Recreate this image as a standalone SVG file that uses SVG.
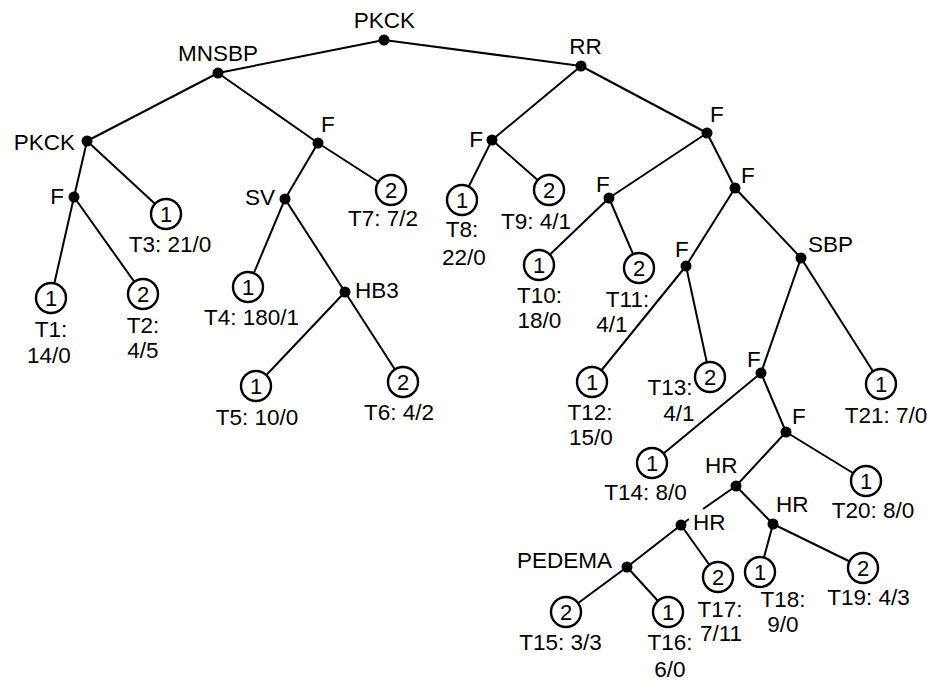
<svg xmlns="http://www.w3.org/2000/svg" width="927" height="683" viewBox="0 0 927 683">
<style>
text{font-family:"Liberation Sans",Arial,sans-serif;font-size:22.5px;fill:#000}
.m{text-anchor:middle}
.e{text-anchor:end}
.s{text-anchor:start}
.dot{fill:#000}
.leaf{fill:#fff;stroke:#000;stroke-width:2.4}
.num{text-anchor:middle;font-size:22px}
#edges line,#edges path{stroke:#000;stroke-width:2;fill:none}
</style>
<rect width="927" height="683" fill="#fff"/>
<g id="edges">
<line x1="384" y1="40" x2="218" y2="73"/>
<line x1="384" y1="40" x2="581" y2="66"/>
<line x1="218" y1="73" x2="87" y2="141"/>
<line x1="218" y1="73" x2="318" y2="143"/>
<line x1="87" y1="141" x2="74" y2="197"/>
<line x1="87" y1="141" x2="166" y2="214"/>
<line x1="74" y1="197" x2="51" y2="298"/>
<line x1="74" y1="197" x2="143" y2="294"/>
<line x1="318" y1="143" x2="285" y2="199"/>
<line x1="318" y1="143" x2="391" y2="190"/>
<line x1="285" y1="199" x2="248" y2="287"/>
<line x1="285" y1="199" x2="345" y2="292"/>
<line x1="345" y1="292" x2="256" y2="386"/>
<line x1="345" y1="292" x2="403" y2="382"/>
<line x1="581" y1="66" x2="492" y2="140"/>
<line x1="581" y1="66" x2="707" y2="133"/>
<line x1="492" y1="140" x2="462" y2="200"/>
<line x1="492" y1="140" x2="549" y2="190"/>
<line x1="707" y1="133" x2="609" y2="198"/>
<line x1="707" y1="133" x2="735" y2="188"/>
<line x1="609" y1="198" x2="539" y2="265"/>
<line x1="609" y1="198" x2="639" y2="268"/>
<line x1="735" y1="188" x2="686" y2="266"/>
<line x1="735" y1="188" x2="801" y2="258"/>
<line x1="686" y1="266" x2="592" y2="382"/>
<line x1="686" y1="266" x2="710" y2="377"/>
<line x1="801" y1="258" x2="761" y2="373"/>
<line x1="801" y1="258" x2="881" y2="384"/>
<line x1="761" y1="373" x2="652" y2="463"/>
<line x1="761" y1="373" x2="786" y2="432"/>
<line x1="786" y1="432" x2="736" y2="486"/>
<line x1="786" y1="432" x2="866" y2="481"/>
<path d="M736,486 L703,509 M689,519 L681,525"/>
<line x1="736" y1="486" x2="773" y2="524"/>
<line x1="681" y1="525" x2="627" y2="567"/>
<line x1="681" y1="525" x2="718" y2="577"/>
<line x1="773" y1="524" x2="760" y2="572"/>
<line x1="773" y1="524" x2="863" y2="568"/>
<line x1="627" y1="567" x2="566" y2="612"/>
<line x1="627" y1="567" x2="668" y2="612"/>
</g>
<g id="n-root"><circle class="dot" cx="384" cy="40" r="5.5"/><text class="m" x="384.5" y="28">PKCK</text></g>
<g id="n-mnsbp"><circle class="dot" cx="218" cy="73" r="5.5"/><text class="m" x="218" y="61">MNSBP</text></g>
<g id="n-rr"><circle class="dot" cx="581" cy="66" r="5.5"/><text class="m" x="585.5" y="54">RR</text></g>
<g id="n-pkck2"><circle class="dot" cx="87" cy="141" r="5.5"/><text class="e" x="75" y="150">PKCK</text></g>
<g id="n-f1"><circle class="dot" cx="318" cy="143" r="5.5"/><text class="s" x="321" y="132">F</text></g>
<g id="n-f2"><circle class="dot" cx="74" cy="197" r="5.5"/><text class="e" x="64" y="204">F</text></g>
<g id="n-sv"><circle class="dot" cx="285" cy="199" r="5.5"/><text class="e" x="275" y="205">SV</text></g>
<g id="n-hb3"><circle class="dot" cx="345" cy="292" r="5.5"/><text class="s" x="355" y="298">HB3</text></g>
<g id="n-f3"><circle class="dot" cx="492" cy="140" r="5.5"/><text class="e" x="483" y="147">F</text></g>
<g id="n-f4"><circle class="dot" cx="707" cy="133" r="5.5"/><text class="s" x="710" y="122">F</text></g>
<g id="n-f5"><circle class="dot" cx="609" cy="198" r="5.5"/><text class="s" x="596" y="192">F</text></g>
<g id="n-f6"><circle class="dot" cx="735" cy="188" r="5.5"/><text class="s" x="741" y="183">F</text></g>
<g id="n-f7"><circle class="dot" cx="686" cy="266" r="5.5"/><text class="s" x="675" y="257">F</text></g>
<g id="n-sbp"><circle class="dot" cx="801" cy="258" r="5.5"/><text class="s" x="808" y="252">SBP</text></g>
<g id="n-f8"><circle class="dot" cx="761" cy="373" r="5.5"/><text class="s" x="747" y="367">F</text></g>
<g id="n-f9"><circle class="dot" cx="786" cy="432" r="5.5"/><text class="s" x="792" y="424">F</text></g>
<g id="n-hr1"><circle class="dot" cx="736" cy="486" r="5.5"/><text class="s" x="705" y="473">HR</text></g>
<g id="n-hr2"><circle class="dot" cx="681" cy="525" r="5.5"/><text class="s" x="693" y="530">HR</text></g>
<g id="n-hr3"><circle class="dot" cx="773" cy="524" r="5.5"/><text class="s" x="776" y="512">HR</text></g>
<g id="n-pedema"><circle class="dot" cx="627" cy="567" r="5.5"/><text class="s" x="517" y="568">PEDEMA</text></g>
<g id="t1"><circle class="leaf" cx="51" cy="298" r="15"/><text class="num" x="51" y="306">1</text><text class="m" x="51" y="337">T1:</text><text class="m" x="49" y="363">14/0</text></g>
<g id="t2"><circle class="leaf" cx="143" cy="294" r="15"/><text class="num" x="143" y="302">2</text><text class="m" x="143" y="333">T2:</text><text class="m" x="143" y="358">4/5</text></g>
<g id="t3"><circle class="leaf" cx="166" cy="214" r="15"/><text class="num" x="166" y="222">1</text><text class="m" x="170" y="252">T3: 21/0</text></g>
<g id="t4"><circle class="leaf" cx="248" cy="287" r="15"/><text class="num" x="248" y="295">1</text><text class="m" x="251.5" y="325">T4: 180/1</text></g>
<g id="t5"><circle class="leaf" cx="256" cy="386" r="15"/><text class="num" x="256" y="394">1</text><text class="m" x="257" y="425">T5: 10/0</text></g>
<g id="t6"><circle class="leaf" cx="403" cy="382" r="15"/><text class="num" x="403" y="390">2</text><text class="m" x="399" y="420">T6: 4/2</text></g>
<g id="t7"><circle class="leaf" cx="391" cy="190" r="15"/><text class="num" x="391" y="198">2</text><text class="m" x="383" y="226">T7: 7/2</text></g>
<g id="t8"><circle class="leaf" cx="462" cy="200" r="15"/><text class="num" x="462" y="208">1</text><text class="m" x="462" y="237">T8:</text><text class="m" x="464" y="265">22/0</text></g>
<g id="t9"><circle class="leaf" cx="549" cy="190" r="15"/><text class="num" x="549" y="198">2</text><text class="m" x="536" y="229">T9: 4/1</text></g>
<g id="t10"><circle class="leaf" cx="539" cy="265" r="15"/><text class="num" x="539" y="273">1</text><text class="m" x="539.5" y="303">T10:</text><text class="m" x="539.5" y="328">18/0</text></g>
<g id="t11"><circle class="leaf" cx="639" cy="268" r="15"/><text class="num" x="639" y="276">2</text><text class="m" x="627.5" y="307">T11:</text><text class="m" x="612" y="332">4/1</text></g>
<g id="t12"><circle class="leaf" cx="592" cy="382" r="15"/><text class="num" x="592" y="390">1</text><text class="m" x="590" y="420">T12:</text><text class="m" x="591" y="445">15/0</text></g>
<g id="t13"><circle class="leaf" cx="710" cy="377" r="15"/><text class="num" x="710" y="385">2</text><text class="m" x="670" y="395">T13:</text><text class="m" x="679" y="421">4/1</text></g>
<g id="t14"><circle class="leaf" cx="652" cy="463" r="15"/><text class="num" x="652" y="471">1</text><text class="m" x="645.5" y="500">T14: 8/0</text></g>
<g id="t15"><circle class="leaf" cx="566" cy="612" r="15"/><text class="num" x="566" y="620">2</text><text class="m" x="560.5" y="650">T15: 3/3</text></g>
<g id="t16"><circle class="leaf" cx="668" cy="612" r="15"/><text class="num" x="668" y="620">1</text><text class="m" x="670" y="650">T16:</text><text class="m" x="670" y="677">6/0</text></g>
<g id="t17"><circle class="leaf" cx="718" cy="577" r="15"/><text class="num" x="718" y="585">2</text><text class="m" x="720" y="617">T17:</text><text class="m" x="721" y="641">7/11</text></g>
<g id="t18"><circle class="leaf" cx="760" cy="572" r="15"/><text class="num" x="760" y="580">1</text><text class="m" x="783" y="607">T18:</text><text class="m" x="783" y="632">9/0</text></g>
<g id="t19"><circle class="leaf" cx="863" cy="568" r="15"/><text class="num" x="863" y="576">2</text><text class="m" x="868.5" y="605">T19: 4/3</text></g>
<g id="t20"><circle class="leaf" cx="866" cy="481" r="15"/><text class="num" x="866" y="489">1</text><text class="m" x="873" y="518">T20: 8/0</text></g>
<g id="t21"><circle class="leaf" cx="881" cy="384" r="15"/><text class="num" x="881" y="392">1</text><text class="m" x="886" y="423">T21: 7/0</text></g>
</svg>
